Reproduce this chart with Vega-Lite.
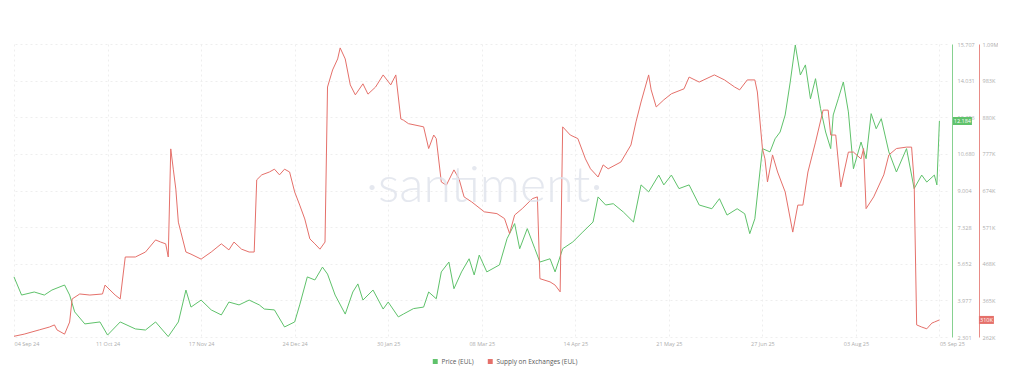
{
  "$schema": "https://vega.github.io/schema/vega-lite/v6.json",
  "width": 933,
  "height": 293,
  "padding": {"left": 12, "top": 42, "right": 0, "bottom": 0},
  "autosize": {"type": "pad"},
  "background": "white",
  "config": {
    "view": {"stroke": null},
    "font": "Open Sans"
  },
  "datasets": {
    "price": [
      {"date":"2024-09-04","price":5.05},{"date":"2024-09-07","price":4.22},{"date":"2024-09-12","price":4.36},{"date":"2024-09-16","price":4.22},{"date":"2024-09-19","price":4.45},{"date":"2024-09-24","price":4.68},{"date":"2024-09-26","price":4.22},{"date":"2024-09-28","price":3.45},{"date":"2024-10-02","price":2.90},{"date":"2024-10-08","price":2.99},{"date":"2024-10-11","price":2.39},{"date":"2024-10-16","price":2.99},{"date":"2024-10-22","price":2.67},{"date":"2024-10-26","price":2.62},{"date":"2024-10-30","price":2.99},{"date":"2024-11-04","price":2.32},{"date":"2024-11-08","price":2.99},{"date":"2024-11-11","price":4.45},{"date":"2024-11-13","price":3.67},{"date":"2024-11-17","price":3.99},{"date":"2024-11-21","price":3.54},{"date":"2024-11-25","price":3.31},{"date":"2024-11-28","price":3.90},{"date":"2024-12-02","price":3.77},{"date":"2024-12-06","price":3.99},{"date":"2024-12-10","price":3.77},{"date":"2024-12-12","price":3.58},{"date":"2024-12-16","price":3.54},{"date":"2024-12-20","price":2.76},{"date":"2024-12-24","price":2.99},{"date":"2024-12-26","price":3.77},{"date":"2024-12-29","price":5.05},{"date":"2025-01-01","price":4.91},{"date":"2025-01-04","price":5.50},{"date":"2025-01-06","price":5.18},{"date":"2025-01-09","price":4.22},{"date":"2025-01-13","price":3.35},{"date":"2025-01-16","price":4.36},{"date":"2025-01-18","price":4.73},{"date":"2025-01-20","price":3.99},{"date":"2025-01-24","price":4.45},{"date":"2025-01-28","price":3.58},{"date":"2025-01-30","price":3.90},{"date":"2025-02-03","price":3.22},{"date":"2025-02-05","price":3.35},{"date":"2025-02-09","price":3.60},{"date":"2025-02-13","price":3.67},{"date":"2025-02-15","price":4.36},{"date":"2025-02-18","price":4.05},{"date":"2025-02-20","price":5.28},{"date":"2025-02-23","price":5.73},{"date":"2025-02-25","price":4.51},{"date":"2025-02-28","price":5.28},{"date":"2025-03-03","price":5.88},{"date":"2025-03-05","price":5.14},{"date":"2025-03-07","price":6.05},{"date":"2025-03-10","price":5.28},{"date":"2025-03-15","price":5.60},{"date":"2025-03-18","price":6.80},{"date":"2025-03-21","price":7.49},{"date":"2025-03-23","price":6.34},{"date":"2025-03-26","price":7.26},{"date":"2025-03-29","price":6.34},{"date":"2025-03-31","price":5.73},{"date":"2025-04-04","price":5.88},{"date":"2025-04-06","price":5.28},{"date":"2025-04-09","price":6.34},{"date":"2025-04-13","price":6.65},{"date":"2025-04-17","price":7.11},{"date":"2025-04-21","price":7.56},{"date":"2025-04-23","price":8.71},{"date":"2025-04-26","price":8.34},{"date":"2025-04-29","price":8.40},{"date":"2025-05-03","price":8.02},{"date":"2025-05-07","price":7.56},{"date":"2025-05-10","price":9.26},{"date":"2025-05-13","price":8.94},{"date":"2025-05-17","price":9.71},{"date":"2025-05-19","price":9.26},{"date":"2025-05-22","price":9.71},{"date":"2025-05-25","price":9.09},{"date":"2025-05-29","price":9.26},{"date":"2025-06-02","price":8.34},{"date":"2025-06-07","price":8.17},{"date":"2025-06-10","price":8.63},{"date":"2025-06-13","price":7.88},{"date":"2025-06-17","price":8.17},{"date":"2025-06-20","price":7.94},{"date":"2025-06-22","price":7.03},{"date":"2025-06-24","price":7.71},{"date":"2025-06-27","price":10.92},{"date":"2025-06-30","price":10.77},{"date":"2025-07-02","price":11.37},{"date":"2025-07-04","price":11.68},{"date":"2025-07-06","price":12.46},{"date":"2025-07-08","price":13.97},{"date":"2025-07-10","price":15.66},{"date":"2025-07-12","price":14.29},{"date":"2025-07-14","price":14.75},{"date":"2025-07-16","price":13.20},{"date":"2025-07-18","price":14.12},{"date":"2025-07-20","price":12.75},{"date":"2025-07-22","price":11.68},{"date":"2025-07-24","price":10.92},{"date":"2025-07-25","price":12.46},{"date":"2025-07-27","price":13.20},{"date":"2025-07-29","price":13.97},{"date":"2025-07-31","price":12.60},{"date":"2025-08-02","price":10.00},{"date":"2025-08-05","price":11.22},{"date":"2025-08-07","price":10.46},{"date":"2025-08-09","price":12.52},{"date":"2025-08-11","price":11.83},{"date":"2025-08-13","price":12.29},{"date":"2025-08-16","price":10.77},{"date":"2025-08-19","price":9.85},{"date":"2025-08-23","price":10.92},{"date":"2025-08-26","price":9.09},{"date":"2025-08-29","price":9.71},{"date":"2025-08-31","price":9.39},{"date":"2025-09-03","price":9.71},{"date":"2025-09-04","price":9.26},{"date":"2025-09-05","price":12.184}
    ],
    "supply": [
      {"date":"2024-09-04","supply":264000},{"date":"2024-09-08","supply":270000},{"date":"2024-09-14","supply":282000},{"date":"2024-09-18","supply":290000},{"date":"2024-09-20","supply":296000},{"date":"2024-09-21","supply":282000},{"date":"2024-09-24","supply":270000},{"date":"2024-09-26","supply":304000},{"date":"2024-09-27","supply":369000},{"date":"2024-09-30","supply":383000},{"date":"2024-10-04","supply":380000},{"date":"2024-10-09","supply":383000},{"date":"2024-10-10","supply":408000},{"date":"2024-10-14","supply":380000},{"date":"2024-10-16","supply":369000},{"date":"2024-10-18","supply":487000},{"date":"2024-10-22","supply":487000},{"date":"2024-10-26","supply":501000},{"date":"2024-10-30","supply":535000},{"date":"2024-11-01","supply":529000},{"date":"2024-11-03","supply":524000},{"date":"2024-11-04","supply":487000},{"date":"2024-11-05","supply":791000},{"date":"2024-11-06","supply":734000},{"date":"2024-11-07","supply":678000},{"date":"2024-11-08","supply":585000},{"date":"2024-11-09","supply":557000},{"date":"2024-11-11","supply":501000},{"date":"2024-11-13","supply":495000},{"date":"2024-11-17","supply":481000},{"date":"2024-11-21","supply":501000},{"date":"2024-11-25","supply":524000},{"date":"2024-11-28","supply":507000},{"date":"2024-11-30","supply":529000},{"date":"2024-12-03","supply":509000},{"date":"2024-12-06","supply":501000},{"date":"2024-12-08","supply":501000},{"date":"2024-12-09","supply":704000},{"date":"2024-12-11","supply":718000},{"date":"2024-12-14","supply":726000},{"date":"2024-12-16","supply":734000},{"date":"2024-12-18","supply":718000},{"date":"2024-12-20","supply":734000},{"date":"2024-12-22","supply":726000},{"date":"2024-12-24","supply":670000},{"date":"2024-12-26","supply":633000},{"date":"2024-12-28","supply":594000},{"date":"2024-12-30","supply":538000},{"date":"2025-01-01","supply":524000},{"date":"2025-01-03","supply":509000},{"date":"2025-01-05","supply":529000},{"date":"2025-01-06","supply":965000},{"date":"2025-01-08","supply":1013000},{"date":"2025-01-10","supply":1044000},{"date":"2025-01-11","supply":1075000},{"date":"2025-01-13","supply":1044000},{"date":"2025-01-15","supply":971000},{"date":"2025-01-17","supply":943000},{"date":"2025-01-20","supply":974000},{"date":"2025-01-22","supply":945000},{"date":"2025-01-25","supply":965000},{"date":"2025-01-28","supply":999000},{"date":"2025-01-31","supply":971000},{"date":"2025-02-02","supply":999000},{"date":"2025-02-04","supply":875000},{"date":"2025-02-05","supply":872000},{"date":"2025-02-07","supply":862000},{"date":"2025-02-13","supply":853000},{"date":"2025-02-15","supply":792000},{"date":"2025-02-17","supply":830000},{"date":"2025-02-18","supply":820000},{"date":"2025-02-20","supply":698000},{"date":"2025-02-22","supply":689000},{"date":"2025-02-25","supply":732000},{"date":"2025-02-27","supply":707000},{"date":"2025-03-01","supply":656000},{"date":"2025-03-04","supply":642000},{"date":"2025-03-09","supply":614000},{"date":"2025-03-14","supply":609000},{"date":"2025-03-17","supply":595000},{"date":"2025-03-19","supply":553000},{"date":"2025-03-21","supply":605000},{"date":"2025-03-24","supply":623000},{"date":"2025-03-28","supply":651000},{"date":"2025-03-30","supply":656000},{"date":"2025-03-31","supply":426000},{"date":"2025-04-04","supply":417000},{"date":"2025-04-06","supply":408000},{"date":"2025-04-08","supply":389000},{"date":"2025-04-09","supply":853000},{"date":"2025-04-12","supply":830000},{"date":"2025-04-15","supply":820000},{"date":"2025-04-18","supply":763000},{"date":"2025-04-20","supply":735000},{"date":"2025-04-23","supply":712000},{"date":"2025-04-25","supply":746000},{"date":"2025-04-27","supply":735000},{"date":"2025-05-02","supply":754000},{"date":"2025-05-06","supply":802000},{"date":"2025-05-08","supply":867000},{"date":"2025-05-10","supply":923000},{"date":"2025-05-13","supply":999000},{"date":"2025-05-14","supply":957000},{"date":"2025-05-16","supply":909000},{"date":"2025-05-19","supply":929000},{"date":"2025-05-22","supply":946000},{"date":"2025-05-27","supply":960000},{"date":"2025-05-29","supply":993000},{"date":"2025-06-02","supply":979000},{"date":"2025-06-08","supply":999000},{"date":"2025-06-12","supply":985000},{"date":"2025-06-16","supply":965000},{"date":"2025-06-18","supply":957000},{"date":"2025-06-21","supply":985000},{"date":"2025-06-24","supply":985000},{"date":"2025-06-25","supply":951000},{"date":"2025-06-27","supply":792000},{"date":"2025-06-28","supply":763000},{"date":"2025-06-29","supply":698000},{"date":"2025-07-01","supply":774000},{"date":"2025-07-03","supply":726000},{"date":"2025-07-06","supply":670000},{"date":"2025-07-09","supply":557000},{"date":"2025-07-11","supply":633000},{"date":"2025-07-13","supply":633000},{"date":"2025-07-15","supply":726000},{"date":"2025-07-18","supply":810000},{"date":"2025-07-21","supply":900000},{"date":"2025-07-23","supply":900000},{"date":"2025-07-24","supply":830000},{"date":"2025-07-26","supply":830000},{"date":"2025-07-28","supply":684000},{"date":"2025-07-31","supply":782000},{"date":"2025-08-02","supply":782000},{"date":"2025-08-05","supply":763000},{"date":"2025-08-06","supply":792000},{"date":"2025-08-07","supply":623000},{"date":"2025-08-10","supply":656000},{"date":"2025-08-14","supply":718000},{"date":"2025-08-16","supply":774000},{"date":"2025-08-19","supply":792000},{"date":"2025-08-23","supply":796000},{"date":"2025-08-25","supply":796000},{"date":"2025-08-26","supply":700000},{"date":"2025-08-27","supply":296000},{"date":"2025-08-29","supply":290000},{"date":"2025-08-31","supply":285000},{"date":"2025-09-02","supply":301000},{"date":"2025-09-03","supply":304000},{"date":"2025-09-05","supply":310000}
    ]
  },
  "layer": [
    {
      "data": {"name": "price"},
      "mark": {"type": "line", "strokeWidth": 1, "interpolate": "linear"},
      "encoding": {
        "x": {
          "field": "date", "type": "temporal", "title": null,
          "scale": {"type": "utc", "domain": [{"year": 2024, "month": 9, "date": 4, "utc": true}, {"year": 2025, "month": 9, "date": 8, "utc": true}]},
          "axis": {
            "values": [
              {"year": 2024, "month": 9, "date": 4, "utc": true},
              {"year": 2024, "month": 10, "date": 11, "utc": true},
              {"year": 2024, "month": 11, "date": 17, "utc": true},
              {"year": 2024, "month": 12, "date": 24, "utc": true},
              {"year": 2025, "month": 1, "date": 30, "utc": true},
              {"year": 2025, "month": 3, "date": 8, "utc": true},
              {"year": 2025, "month": 4, "date": 14, "utc": true},
              {"year": 2025, "month": 5, "date": 21, "utc": true},
              {"year": 2025, "month": 6, "date": 27, "utc": true},
              {"year": 2025, "month": 8, "date": 3, "utc": true},
              {"year": 2025, "month": 9, "date": 5, "utc": true}
            ],
            "format": "%d %b %y",
            "grid": true, "gridColor": "#eeeeee", "gridDash": [2, 3], "gridWidth": 1,
            "domain": false, "ticks": false, "labelPadding": 4,
            "labelFontSize": 5.5, "labelColor": "#adadad", "labelFont": "Open Sans",
            "labelFlush": false,
            "labelAlign": {"condition": {"test": "datum.index == 0 || datum.index == 1", "value": "left"}, "value": "center"}
          }
        },
        "y": {
          "field": "price", "type": "quantitative", "title": null,
          "scale": {"domain": [2.301, 15.707], "nice": false, "zero": false},
          "axis": {
            "orient": "right", "offset": 5,
            "values": [2.301, 3.977, 5.652, 7.328, 9.004, 10.68, 12.356, 14.031, 15.707],
            "format": ".3f",
            "grid": true, "gridColor": "#eeeeee", "gridDash": [2, 3], "gridWidth": 1,
            "domainColor": "#86d190", "domainWidth": 1, "ticks": false,
            "labelPadding": 5, "labelFontSize": 5.5, "labelColor": "#adadad", "labelFont": "Open Sans"
          }
        },
        "color": {
          "datum": "Price (EUL)",
          "scale": {"domain": ["Price (EUL)", "Supply on Exchanges (EUL)"], "range": ["#5fc26b", "#e5706a"]},
          "legend": {
            "title": null, "orient": "none", "legendX": 418, "legendY": 314,
            "direction": "horizontal", "symbolType": "square", "symbolSize": 6,
            "symbolStrokeWidth": 2.5, "labelFontSize": 6.5, "labelColor": "#5a5a5a",
            "labelFont": "Open Sans", "columnPadding": 10, "labelOffset": 3, "padding": 0
          }
        }
      }
    },
    {
      "data": {"name": "supply"},
      "mark": {"type": "line", "strokeWidth": 1, "interpolate": "linear"},
      "encoding": {
        "x": {"field": "date", "type": "temporal", "title": null},
        "y": {
          "field": "supply", "type": "quantitative", "title": null,
          "scale": {"domain": [262000, 1086000], "nice": false, "zero": false},
          "axis": {
            "orient": "right", "offset": 32,
            "values": [262000, 365000, 468000, 571000, 674000, 777000, 880000, 983000, 1086000],
            "labelExpr": "datum.value >= 1000000 ? format(datum.value / 1000000, '.2f') + 'M' : format(datum.value / 1000, '.0f') + 'K'",
            "grid": false, "domainColor": "#e88b86", "domainWidth": 1, "ticks": false,
            "labelPadding": 3, "labelFontSize": 5.5, "labelColor": "#adadad", "labelFont": "Open Sans"
          }
        },
        "color": {"datum": "Supply on Exchanges (EUL)"}
      }
    },
    {
      "data": {"values": [{}]},
      "mark": {"type": "text", "text": "·santiment·", "fontSize": 50, "font": "Lato", "fontWeight": 300, "color": "#dfe3ec", "opacity": 0.8, "align": "center", "baseline": "middle"},
      "encoding": {
        "x": {"datum": {"year": 2025, "month": 3, "date": 9, "utc": true}, "type": "temporal", "title": null},
        "y": {"datum": 9.16, "type": "quantitative", "axis": null, "scale": {"domain": [2.301, 15.707], "nice": false, "zero": false}}
      }
    },
    {
      "data": {"name": "price"},
      "transform": [{"filter": {"field": "date", "equal": {"year": 2025, "month": 9, "date": 5, "utc": true}}}],
      "mark": {"type": "point", "shape": "M-1.9,-0.8H1.9V0.8H-1.9Z", "size": 100, "filled": true, "opacity": 1, "color": "#5fc26b", "strokeWidth": 0, "xOffset": 23},
      "encoding": {
        "x": {"field": "date", "type": "temporal", "title": null},
        "y": {"field": "price", "type": "quantitative", "axis": null, "scale": {"domain": [2.301, 15.707], "nice": false, "zero": false}}
      }
    },
    {
      "data": {"name": "price"},
      "transform": [{"filter": {"field": "date", "equal": {"year": 2025, "month": 9, "date": 5, "utc": true}}}],
      "mark": {"type": "text", "color": "white", "fontSize": 5.5, "font": "Open Sans", "align": "center", "baseline": "middle", "xOffset": 23},
      "encoding": {
        "x": {"field": "date", "type": "temporal", "title": null},
        "y": {"field": "price", "type": "quantitative", "axis": null, "scale": {"domain": [2.301, 15.707], "nice": false, "zero": false}},
        "text": {"field": "price", "type": "quantitative", "format": ".3f"}
      }
    },
    {
      "data": {"name": "supply"},
      "transform": [{"filter": {"field": "date", "equal": {"year": 2025, "month": 9, "date": 5, "utc": true}}}],
      "mark": {"type": "point", "shape": "M-1.5,-0.8H1.5V0.8H-1.5Z", "size": 100, "filled": true, "opacity": 1, "color": "#e5706a", "strokeWidth": 0, "xOffset": 47},
      "encoding": {
        "x": {"field": "date", "type": "temporal", "title": null},
        "y": {"field": "supply", "type": "quantitative", "axis": null, "scale": {"domain": [262000, 1086000], "nice": false, "zero": false}}
      }
    },
    {
      "data": {"name": "supply"},
      "transform": [{"filter": {"field": "date", "equal": {"year": 2025, "month": 9, "date": 5, "utc": true}}}],
      "mark": {"type": "text", "color": "white", "fontSize": 5.5, "font": "Open Sans", "align": "center", "baseline": "middle", "xOffset": 47, "text": {"expr": "format(datum.supply / 1000, '.0f') + 'K'"}},
      "encoding": {
        "x": {"field": "date", "type": "temporal", "title": null},
        "y": {"field": "supply", "type": "quantitative", "axis": null, "scale": {"domain": [262000, 1086000], "nice": false, "zero": false}}
      }
    }
  ],
  "resolve": {"scale": {"y": "independent"}}
}
